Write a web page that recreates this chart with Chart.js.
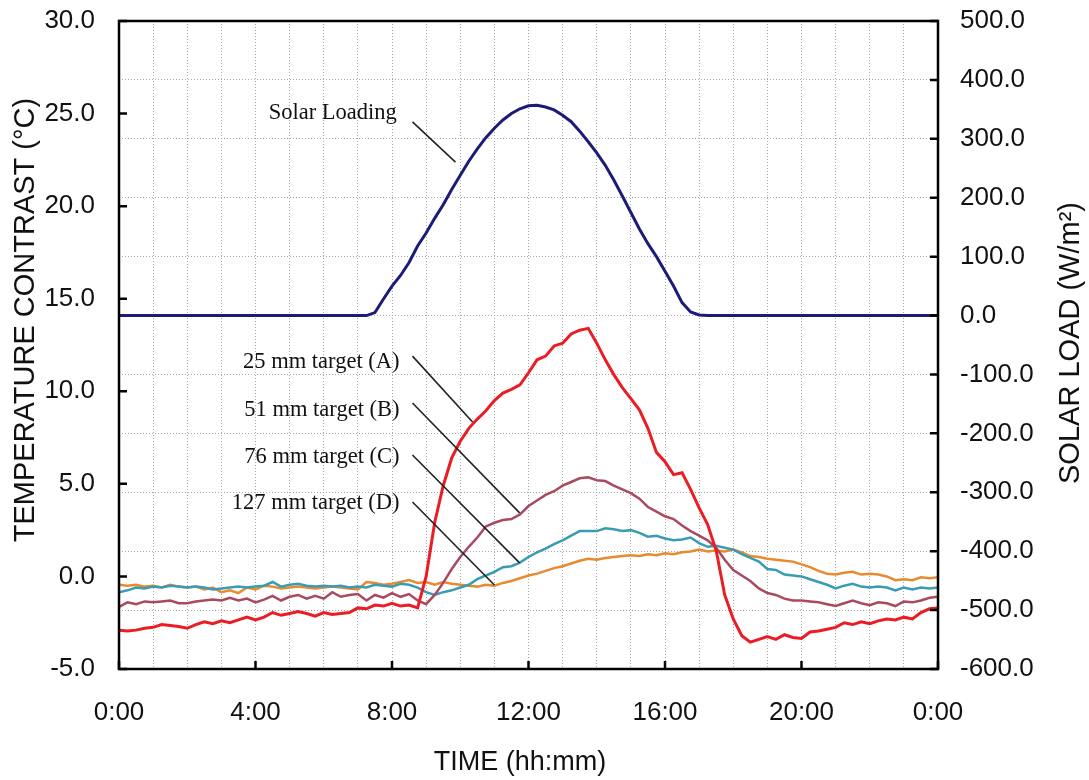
<!DOCTYPE html>
<html>
<head>
<meta charset="utf-8">
<script src="https://cdn.jsdelivr.net/npm/chart.js@4/dist/chart.umd.min.js"></script>
<style>
  html, body { margin: 0; padding: 0; background: #fff; }
  #chart { display: block; }
</style>
</head>
<body>
<canvas id="chart" width="1089" height="780"></canvas>
<script>
// time of day in hours (0:00 .. 24:00, every 15 min)
const hours = [
  0, 0.25, 0.5, 0.75, 1, 1.25, 1.5, 1.75,
  2, 2.25, 2.5, 2.75, 3, 3.25, 3.5, 3.75,
  4, 4.25, 4.5, 4.75, 5, 5.25, 5.5, 5.75,
  6, 6.25, 6.5, 6.75, 7, 7.25, 7.5, 7.75,
  8, 8.25, 8.5, 8.75, 9, 9.25, 9.5, 9.75,
  10, 10.25, 10.5, 10.75, 11, 11.25, 11.5, 11.75,
  12, 12.25, 12.5, 12.75, 13, 13.25, 13.5, 13.75,
  14, 14.25, 14.5, 14.75, 15, 15.25, 15.5, 15.75,
  16, 16.25, 16.5, 16.75, 17, 17.25, 17.5, 17.75,
  18, 18.25, 18.5, 18.75, 19, 19.25, 19.5, 19.75,
  20, 20.25, 20.5, 20.75, 21, 21.25, 21.5, 21.75,
  22, 22.25, 22.5, 22.75, 23, 23.25, 23.5, 23.75,
  24
];

// solar load, W/m2 (right axis)
const solarLoad = [
  0, 0, 0, 0, 0, 0, 0, 0,
  0, 0, 0, 0, 0, 0, 0, 0,
  0, 0, 0, 0, 0, 0, 0, 0,
  0, 0, 0, 0, 0, 0, 5, 28,
  50, 68, 90, 118, 140, 165, 188, 214,
  238, 262, 283, 302, 318, 332, 343, 351,
  356, 357, 354, 349, 340, 329, 313, 295,
  276, 255, 230, 203, 175, 147, 122, 100,
  75, 50, 22, 6, 1, 0, 0, 0,
  0, 0, 0, 0, 0, 0, 0, 0,
  0, 0, 0, 0, 0, 0, 0, 0,
  0, 0, 0, 0, 0, 0, 0, 0,
  0
];

// temperature contrast, deg C (left axis)
const target25 = [
  -2.9, -2.95, -2.9, -2.8, -2.75, -2.6, -2.65, -2.7,
  -2.8, -2.6, -2.45, -2.55, -2.4, -2.5, -2.35, -2.2,
  -2.35, -2.2, -1.95, -2.1, -2.0, -1.9, -2.0, -2.15,
  -1.95, -2.05, -2.0, -1.95, -1.7, -1.75, -1.55, -1.6,
  -1.45, -1.6, -1.55, -1.7, 0.0, 2.9, 4.9, 6.4,
  7.3, 8.0, 8.5, 8.95, 9.5, 9.9, 10.1, 10.35,
  11.0, 11.7, 11.9, 12.45, 12.6, 13.1, 13.3, 13.4,
  12.6, 11.7, 10.9, 10.2, 9.6, 9.0, 8.0, 6.7,
  6.2, 5.5, 5.6, 4.7, 3.7, 2.8, 1.4, -1.0,
  -2.3, -3.2, -3.55, -3.4, -3.25, -3.4, -3.15, -3.3,
  -3.35, -3.0, -2.95, -2.85, -2.75, -2.5, -2.6, -2.45,
  -2.55, -2.4, -2.3, -2.35, -2.2, -2.3, -1.95, -1.75,
  -1.7
];
const target51 = [
  -1.65, -1.4, -1.5, -1.35, -1.4, -1.35, -1.3, -1.45,
  -1.45, -1.35, -1.3, -1.25, -1.3, -1.15, -1.3, -1.2,
  -1.4, -1.25, -1.05, -1.3, -1.1, -1.0, -1.2, -1.05,
  -1.2, -0.85, -1.1, -1.0, -0.95, -1.3, -1.0, -1.15,
  -0.9, -1.1, -0.95, -1.3, -1.5, -1.0, -0.35, 0.4,
  1.05, 1.6, 2.1, 2.7, 2.9, 3.05, 3.1, 3.35,
  3.8, 4.1, 4.4, 4.6, 4.9, 5.1, 5.3, 5.35,
  5.2, 5.15, 4.9, 4.7, 4.5, 4.2, 3.75, 3.5,
  3.25, 3.1, 2.75, 2.45, 2.2, 1.95, 1.55, 0.9,
  0.35, 0.05, -0.25, -0.65, -0.9, -1.0, -1.2, -1.3,
  -1.3, -1.35, -1.4, -1.5, -1.6, -1.45, -1.3, -1.45,
  -1.55, -1.4, -1.45, -1.6, -1.35, -1.4, -1.3, -1.15,
  -1.1
];
const target76 = [
  -0.85, -0.75, -0.6, -0.65, -0.55, -0.6, -0.5, -0.55,
  -0.6, -0.55, -0.6, -0.7, -0.65, -0.6, -0.55, -0.6,
  -0.55, -0.5, -0.3, -0.55, -0.45, -0.4, -0.5, -0.55,
  -0.5, -0.55, -0.5, -0.6, -0.55, -0.6, -0.45, -0.5,
  -0.55, -0.4, -0.45, -0.6, -0.85, -1.0, -0.85, -0.75,
  -0.6, -0.45, -0.15, 0.05, 0.25, 0.5, 0.55, 0.75,
  1.05, 1.3, 1.5, 1.75, 1.95, 2.2, 2.45, 2.45,
  2.45, 2.6, 2.55, 2.45, 2.5, 2.35, 2.15, 2.2,
  2.05, 1.95, 2.0, 2.1, 1.8, 1.6, 1.65, 1.55,
  1.45, 1.2, 1.0, 0.8, 0.4, 0.35, 0.1, 0.05,
  0.0, -0.15, -0.3, -0.45, -0.65, -0.5, -0.4, -0.55,
  -0.6, -0.55, -0.6, -0.75, -0.6, -0.7, -0.6, -0.65,
  -0.6
];
const target127 = [
  -0.45, -0.5, -0.45, -0.55, -0.5, -0.6, -0.45, -0.55,
  -0.6, -0.55, -0.7, -0.6, -0.85, -0.75, -0.9, -0.6,
  -0.7, -0.5, -0.55, -0.65, -0.6, -0.55, -0.6, -0.65,
  -0.6, -0.55, -0.6, -0.65, -0.7, -0.3, -0.35, -0.45,
  -0.4, -0.3, -0.2, -0.35, -0.3, -0.45, -0.3, -0.4,
  -0.45, -0.5, -0.55, -0.45, -0.5, -0.35, -0.25, -0.1,
  0.05, 0.15, 0.3, 0.45, 0.55, 0.7, 0.85, 0.95,
  0.9, 1.0, 1.05, 1.1, 1.15, 1.1, 1.2, 1.15,
  1.25, 1.2, 1.3, 1.35, 1.45, 1.35, 1.4, 1.35,
  1.45, 1.3, 1.1, 1.05, 0.95, 0.9, 0.85, 0.8,
  0.65, 0.5, 0.3, 0.15, 0.1, 0.2, 0.25, 0.1,
  0.15, 0.1, 0.0, -0.2, -0.15, -0.2, -0.05, -0.1,
  -0.05
];

// callout labels: text, label anchor (hour, degC), leader line start/end (hour, degC)
const calloutText = ["Solar Loading", "25 mm target (A)", "51 mm target (B)", "76 mm target (C)", "127 mm target (D)"];
const calloutAt = [[8.14, 25.0], [8.22, 11.6], [8.22, 9.0], [8.22, 6.45], [8.22, 3.95]];
const calloutFrom = [[8.6, 24.55], [8.6, 11.9], [8.6, 9.37], [8.6, 6.56], [8.6, 4.02]];
const calloutTo = [[9.86, 22.38], [10.36, 8.34], [11.74, 3.43], [11.74, 0.73], [11.0, -0.46]];

const SANS = "'Liberation Sans', Arial, sans-serif";
const SERIF = "'Liberation Serif', 'Times New Roman', serif";

const pts = (vals) => hours.map((h, i) => ({ x: h, y: vals[i] }));

const series = (label, vals, color, width, axis) => ({
  label: label,
  data: pts(vals),
  borderColor: color,
  borderWidth: width,
  pointRadius: 0,
  tension: 0,
  fill: false,
  yAxisID: axis,
});

// frame, inward tick marks, axis titles and callouts
const decorations = {
  id: "decorations",
  afterDraw(chart) {
    const { ctx, chartArea: a, scales } = chart;
    const x = scales.x, y = scales.y, y1 = scales.y1;
    ctx.save();

    ctx.strokeStyle = "#000";
    ctx.lineWidth = 2.5;
    ctx.strokeRect(a.left, a.top, a.right - a.left, a.bottom - a.top);

    ctx.beginPath();
    for (let v = -5; v <= 30; v += 5) {
      const py = y.getPixelForValue(v);
      ctx.moveTo(a.left, py); ctx.lineTo(a.left + 8, py);
    }
    for (let v = -600; v <= 500; v += 100) {
      const py = y1.getPixelForValue(v);
      ctx.moveTo(a.right, py); ctx.lineTo(a.right - 8, py);
    }
    for (let h = 0; h <= 24; h += 4) {
      const px = x.getPixelForValue(h);
      ctx.moveTo(px, a.bottom); ctx.lineTo(px, a.bottom - 8);
    }
    ctx.stroke();

    // axis titles
    ctx.fillStyle = "#111";
    ctx.font = "27px " + SANS;
    ctx.textAlign = "center";
    ctx.textBaseline = "middle";
    ctx.fillText("TIME (hh:mm)", 520, 763);

    ctx.font = "29px " + SANS;
    ctx.save();
    ctx.translate(26, 320);
    ctx.rotate(-Math.PI / 2);
    ctx.fillText("TEMPERATURE CONTRAST (°C)", 0, 0);
    ctx.restore();

    ctx.save();
    ctx.translate(1071, 343);
    ctx.rotate(-Math.PI / 2);
    ctx.fillText("SOLAR LOAD (W/m²)", 0, 0);
    ctx.restore();

    // callouts
    ctx.font = "22.5px " + SERIF;
    ctx.textAlign = "right";
    ctx.strokeStyle = "#222";
    ctx.lineWidth = 1.6;
    calloutText.forEach((t, i) => {
      ctx.fillText(t, x.getPixelForValue(calloutAt[i][0]), y.getPixelForValue(calloutAt[i][1]));
      ctx.beginPath();
      ctx.moveTo(x.getPixelForValue(calloutFrom[i][0]), y.getPixelForValue(calloutFrom[i][1]));
      ctx.lineTo(x.getPixelForValue(calloutTo[i][0]), y.getPixelForValue(calloutTo[i][1]));
      ctx.stroke();
    });

    ctx.restore();
  },
};

const gridStyle = {
  color: "#a8a8a8",
  lineWidth: 1,
  drawTicks: false,
};

// fixed axis box sizes so the plot area sits where the reference has it
const fitBox = (w, h) => (s) => {
  if (w !== null) s.width = w;
  if (h !== null) s.height = h;
  s.paddingTop = 0;
  s.paddingBottom = 0;
};

new Chart(document.getElementById("chart"), {
  type: "line",
  data: {
    datasets: [
      series("Solar Loading", solarLoad, "#1c1c78", 3, "y1"),
      series("25 mm target (A)", target25, "#ec1c24", 3, "y"),
      series("51 mm target (B)", target51, "#a84a60", 2.5, "y"),
      series("76 mm target (C)", target76, "#3a9cb4", 2.5, "y"),
      series("127 mm target (D)", target127, "#e88a2e", 2.5, "y"),
    ],
  },
  options: {
    responsive: false,
    animation: false,
    layout: { padding: { top: 21, left: 0, right: 0, bottom: 0 } },
    plugins: {
      legend: { display: false },
      tooltip: { enabled: false },
    },
    scales: {
      x: {
        type: "linear",
        min: 0,
        max: 24,
        border: { display: false, dash: [1, 2] },
        grid: gridStyle,
        ticks: {
          stepSize: 1,
          autoSkip: false,
          maxRotation: 0,
          padding: 28,
          color: "#111",
          font: { family: SANS, size: 26 },
          callback: (v) => (v % 4 === 0 ? (v % 24) + ":00" : ""),
        },
        afterFit: fitBox(null, 111),
      },
      y: {
        position: "left",
        min: -5,
        max: 30,
        border: { display: false },
        grid: { display: false, drawTicks: false },
        ticks: {
          stepSize: 5,
          padding: 24,
          color: "#111",
          font: { family: SANS, size: 26 },
          callback: (v) => v.toFixed(1),
        },
        afterFit: fitBox(119, null),
      },
      y1: {
        position: "right",
        min: -600,
        max: 500,
        border: { display: false, dash: [1, 2] },
        grid: gridStyle,
        ticks: {
          stepSize: 100,
          padding: 22,
          color: "#111",
          font: { family: SANS, size: 26 },
          callback: (v) => v.toFixed(1),
        },
        afterFit: fitBox(151, null),
      },
    },
  },
  plugins: [decorations],
});
</script>
</body>
</html>
